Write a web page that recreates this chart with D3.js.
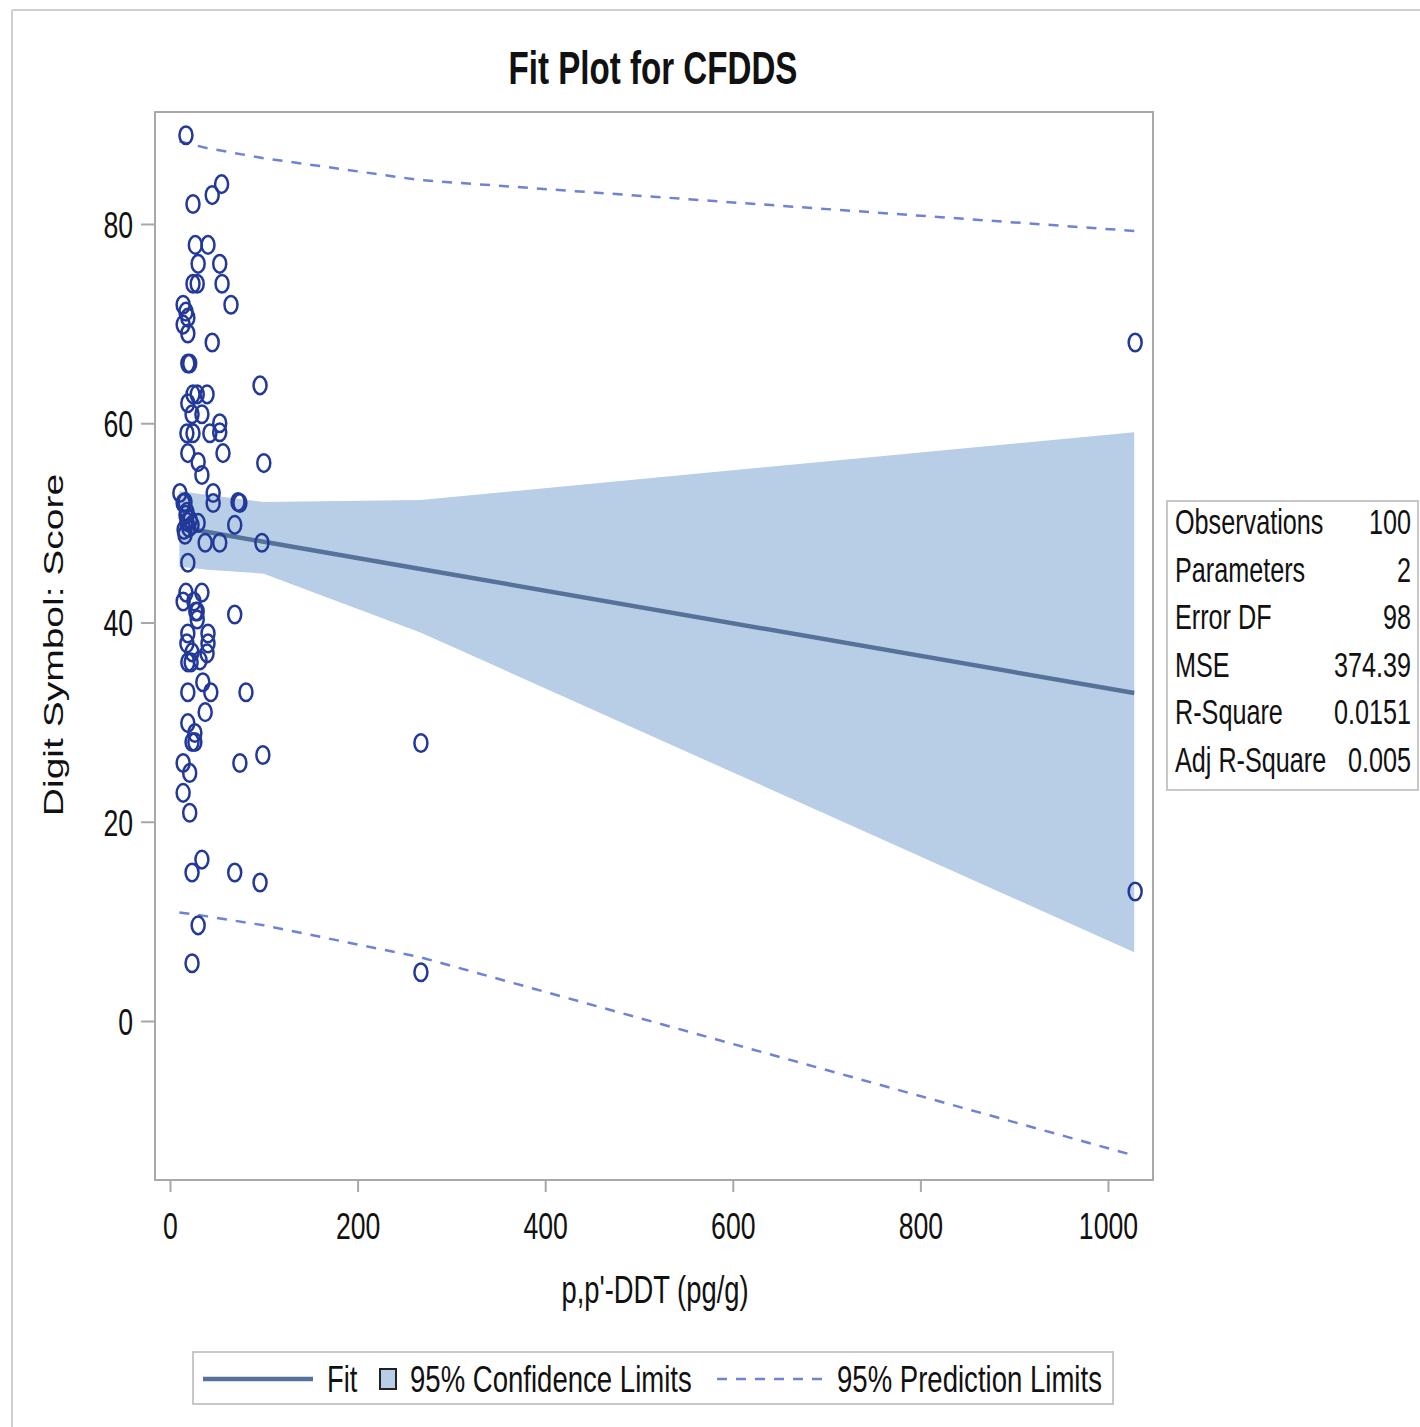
<!DOCTYPE html>
<html>
<head>
<meta charset="utf-8">
<script src="https://cdn.jsdelivr.net/npm/d3@7"></script>
<style>
  html, body { margin: 0; padding: 0; background: #fff; }
  svg { display: block; font-family: "Liberation Sans", Arial, sans-serif; }
</style>
</head>
<body>
<svg id="chart" width="1420" height="1427"></svg>
<script>
// p,p'-DDT (pg/g) and Digit Symbol score
const ddtValues = [17, 24.5, 45, 55, 27, 40.5, 30, 53, 24.5, 29, 55.5, 65, 14, 17, 19, 14, 19, 45, 19, 21,
  96, 24.5, 39.5, 29, 19, 23.5, 34, 53, 53, 18, 24.5, 42.5, 19, 56.5, 100, 30, 34, 10.5, 46, 16,
  46, 72.5, 74.5, 18, 69, 18, 15, 20, 23.5, 37.5, 53, 98, 16, 19, 17, 34, 14, 25.5, 29, 69,
  29, 19, 40.5, 18, 40.5, 39.5, 19, 22.5, 35, 19, 43.5, 81, 37.5, 19, 26.5, 26.5, 23.5, 267.5, 99, 74.5,
  14, 21, 14, 21, 34, 23.5, 69, 96, 30, 23.5, 267.5, 1029, 1029, 14, 21.5, 30, 27.5, 23.5, 32, 17];
const scoreValues = [88.9, 82.0, 82.9, 84.0, 77.9, 77.9, 76.0, 76.0, 74.0, 74.0, 74.0, 71.9, 71.9, 71.2, 70.6, 69.9, 69.0, 68.1, 66.0, 66.0,
  63.8, 62.9, 62.9, 62.9, 62.0, 60.9, 60.9, 60.0, 59.1, 59.0, 59.0, 59.0, 57.0, 57.0, 56.0, 56.1, 54.8, 53.0, 53.0, 52.1,
  52.0, 52.1, 52.0, 51.1, 49.8, 50.1, 49.3, 49.5, 49.8, 48.0, 48.0, 48.0, 48.8, 46.0, 43.0, 43.0, 42.1, 42.1, 41.1, 40.8,
  40.3, 38.9, 38.9, 37.9, 37.9, 36.9, 36.0, 36.0, 34.0, 33.0, 33.0, 33.0, 31.0, 29.9, 28.9, 28.0, 28.0, 27.9, 26.7, 25.9,
  25.9, 24.9, 22.9, 20.9, 16.2, 14.9, 14.9, 13.9, 9.6, 5.8, 4.9, 68.1, 13.0, 52.0, 50.3, 50.0, 41.1, 37.0, 36.2, 50.8];

// fit, 95% confidence and prediction limits at the observed x positions
const bandX = [10, 40, 100, 267, 1028];
const fitValues = [49.57, 49.08, 48.10, 45.37, 32.92];
const clmUpper = [53.2, 52.8, 52.1, 52.3, 59.1];
const clmLower = [45.6, 45.3, 44.9, 39.0, 6.9];
const pliUpper = [88.3, 87.6, 86.6, 84.4, 79.3];
const pliLower = [10.9, 10.5, 9.6, 6.4, -13.5];

const xTicks = [0, 200, 400, 600, 800, 1000];
const yTicks = [0, 20, 40, 60, 80];
const statLabels = ["Observations", "Parameters", "Error DF", "MSE", "R-Square", "Adj R-Square"];
const statValues = ["100", "2", "98", "374.39", "0.0151", "0.005"];

const squeeze = 0.72;
const plot = { left: 155, top: 112, right: 1153, bottom: 1180 };
const markerColor = "#22399a";
const fitColor = "#56729a";
const bandColor = "#b8cde6";
const predColor = "#6f83d4";
const frameColor = "#a8a8a8";
const textColor = "#111";

const svg = d3.select("#chart");

const x = d3.scaleLinear().domain([-16, 1048]).range([plot.left, plot.right]);
const y = d3.scaleLinear().domain([-15.96, 91.24]).range([plot.bottom, plot.top]);

// condensed text helper
function squeezedText(g, tx, ty, str, opts) {
    opts = opts || {};
    const sx = opts.sx || squeeze;
    const t = g.append("text")
        .attr("transform", opts.rotate
            ? `translate(${tx},${ty}) rotate(-90) scale(1,${sx})`
            : `translate(${tx},${ty}) scale(${sx},1)`)
        .attr("text-anchor", opts.anchor || "start")
        .attr("font-size", opts.size || 36)
        .attr("font-weight", opts.weight || "normal")
        .attr("fill", textColor)
        .text(str);
    return t;
}

// outer page frame
svg.append("line").attr("x1", 12).attr("x2", 1420).attr("y1", 10).attr("y2", 10)
    .attr("stroke", "#cfcfcf").attr("stroke-width", 2);
svg.append("line").attr("x1", 12).attr("x2", 12).attr("y1", 10).attr("y2", 1427)
    .attr("stroke", "#cfcfcf").attr("stroke-width", 2);

squeezedText(svg, 653, 84, "Fit Plot for CFDDS", { anchor: "middle", size: 46, weight: "bold" });

svg.append("clipPath").attr("id", "plotClip").append("rect")
    .attr("x", plot.left).attr("y", plot.top)
    .attr("width", plot.right - plot.left).attr("height", plot.bottom - plot.top);

const inner = svg.append("g").attr("clip-path", "url(#plotClip)");

const bandRows = bandX.map((v, i) => ({ x: v, fit: fitValues[i], lo: clmLower[i], hi: clmUpper[i], plo: pliLower[i], phi: pliUpper[i] }));

inner.append("path").datum(bandRows)
    .attr("fill", bandColor)
    .attr("d", d3.area().x(d => x(d.x)).y0(d => y(d.lo)).y1(d => y(d.hi)));

inner.append("path").datum(bandRows)
    .attr("fill", "none").attr("stroke", fitColor).attr("stroke-width", 4.5)
    .attr("d", d3.line().x(d => x(d.x)).y(d => y(d.fit)));

["plo", "phi"].forEach(k => {
    inner.append("path").datum(bandRows)
        .attr("fill", "none").attr("stroke", predColor).attr("stroke-width", 2.5)
        .attr("stroke-dasharray", "10,9")
        .attr("d", d3.line().x(d => x(d.x)).y(d => y(d[k])));
});

inner.selectAll("ellipse.pt").data(ddtValues.map((v, i) => [v, scoreValues[i]]))
    .join("ellipse").attr("class", "pt")
    .attr("cx", d => x(d[0])).attr("cy", d => y(d[1]))
    .attr("rx", 6.5).attr("ry", 8.8)
    .attr("fill", "none").attr("stroke", markerColor).attr("stroke-width", 2.5);

// frame
svg.append("rect").attr("x", plot.left).attr("y", plot.top)
    .attr("width", plot.right - plot.left).attr("height", plot.bottom - plot.top)
    .attr("fill", "none").attr("stroke", frameColor).attr("stroke-width", 2);

// axes
const yAxis = svg.append("g").attr("transform", `translate(${plot.left},0)`)
    .call(d3.axisLeft(y).tickValues(yTicks).tickSize(14).tickSizeOuter(0).tickFormat(d3.format("d")));
const xAxis = svg.append("g").attr("transform", `translate(0,${plot.bottom})`)
    .call(d3.axisBottom(x).tickValues(xTicks).tickSize(12).tickSizeOuter(0).tickFormat(d3.format("d")));

[yAxis, xAxis].forEach(a => {
    a.select(".domain").remove();
    a.selectAll(".tick line").attr("stroke", frameColor).attr("stroke-width", 2);
    a.selectAll(".tick text").attr("font-size", 37).attr("fill", textColor)
        .attr("font-family", "'Liberation Sans', Arial, sans-serif");
});
yAxis.selectAll(".tick text").attr("transform", `scale(${squeeze},1)`).attr("x", -22 / squeeze).attr("dy", "0.36em");
xAxis.selectAll(".tick text").attr("y", 59).attr("dy", 0).attr("x", 0)
    .attr("transform", `scale(${squeeze},1)`).attr("text-anchor", "middle");

squeezedText(svg, 655, 1303, "p,p'-DDT (pg/g)", { anchor: "middle", size: 38 });
squeezedText(svg, 63, 645, "Digit Symbol: Score", { anchor: "middle", size: 39, rotate: true });

// statistics inset
const stats = svg.append("g");
stats.append("rect").attr("x", 1167).attr("y", 501).attr("width", 251).attr("height", 289)
    .attr("fill", "#fff").attr("stroke", "#c8c8c8").attr("stroke-width", 2);
statLabels.forEach((lab, i) => {
    const by = 534 + i * 47.6;
    squeezedText(stats, 1175, by, lab, { size: 35 });
    squeezedText(stats, 1411, by, statValues[i], { size: 35, anchor: "end" });
});

// legend
const leg = svg.append("g");
leg.append("rect").attr("x", 193).attr("y", 1352).attr("width", 920).attr("height", 52)
    .attr("fill", "#fff").attr("stroke", "#c8c8c8").attr("stroke-width", 2);
leg.append("line").attr("x1", 203).attr("x2", 313).attr("y1", 1379).attr("y2", 1379)
    .attr("stroke", fitColor).attr("stroke-width", 4.5);
squeezedText(leg, 327, 1392, "Fit", { size: 37, sx: 0.74 });
leg.append("rect").attr("x", 380).attr("y", 1369).attr("width", 16).attr("height", 20)
    .attr("fill", bandColor).attr("stroke", "#222").attr("stroke-width", 2);
squeezedText(leg, 410, 1392, "95% Confidence Limits", { size: 37, sx: 0.745 });
leg.append("line").attr("x1", 717).attr("x2", 822).attr("y1", 1379).attr("y2", 1379)
    .attr("stroke", predColor).attr("stroke-width", 2.5).attr("stroke-dasharray", "10,9");
squeezedText(leg, 837, 1392, "95% Prediction Limits", { size: 37, sx: 0.745 });
</script>
</body>
</html>
